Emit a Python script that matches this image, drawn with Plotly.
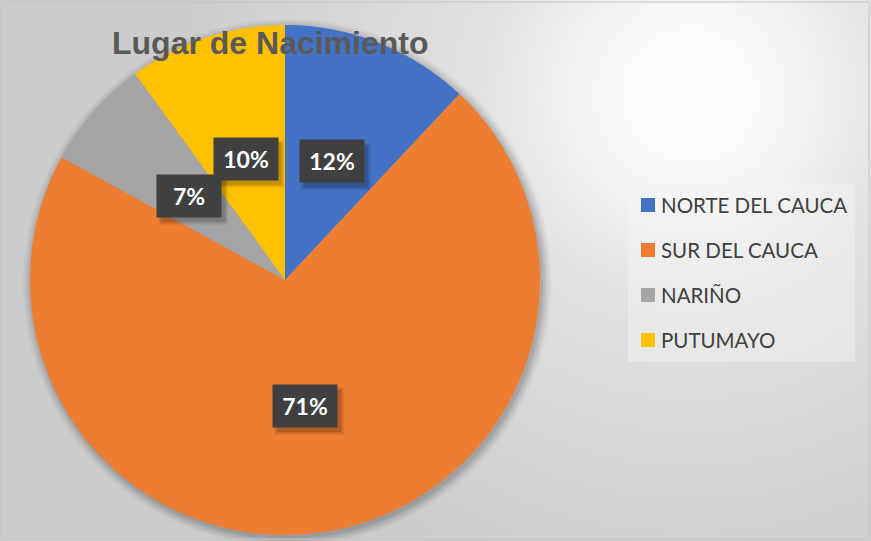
import math
import urllib.parse
import plotly.graph_objects as go

# ---- data ----
categories = ["NORTE DEL CAUCA", "SUR DEL CAUCA", "NARIÑO", "PUTUMAYO"]
values = [12, 71, 7, 10]
slice_colors = ["#4472C4", "#ED7D31", "#A5A5A5", "#FFC000"]
title_text = "Lugar de Nacimiento"

W, H = 871, 541
# pie placement in pixels
PCX, PCY, PR = 285, 280, 255
dom_x = [(PCX - PR) / W, (PCX + PR) / W]
dom_y = [1 - (PCY + PR) / H, 1 - (PCY - PR) / H]

fig = go.Figure()
fig.add_trace(go.Pie(
    labels=categories, values=values, sort=False, direction="clockwise",
    rotation=0, marker=dict(colors=slice_colors, line=dict(width=0)),
    textinfo="none", hoverinfo="label+percent", showlegend=False,
    domain=dict(x=dom_x, y=dom_y),
))

# background gradient (SVG radial)
svg = (
    "<svg xmlns='http://www.w3.org/2000/svg' width='871' height='541'>"
    "<defs><radialGradient id='g' gradientUnits='userSpaceOnUse' cx='690' cy='95' r='520'>"
    "<stop offset='0' stop-color='#ffffff'/>"
    "<stop offset='0.12' stop-color='#fbfbfb'/>"
    "<stop offset='0.4' stop-color='#e2e2e2'/>"
    "<stop offset='1' stop-color='#cccccc'/>"
    "</radialGradient></defs>"
    "<rect width='871' height='541' fill='url(#g)'/></svg>"
)
src = "data:image/svg+xml;charset=utf-8," + urllib.parse.quote(svg)

shapes = []
# pie shadow
for dr, op in [(9, 0.03), (7, 0.04), (5, 0.05), (3, 0.06), (1, 0.07)]:
    ox, oy = 2, 3
    shapes.append(dict(
        type="circle", xref="paper", yref="paper", layer="below",
        x0=(PCX + ox - PR - dr) / W, x1=(PCX + ox + PR + dr) / W,
        y0=1 - (PCY + oy + PR + dr) / H, y1=1 - (PCY + oy - PR - dr) / H,
        fillcolor=f"rgba(0,0,0,{op})", line=dict(width=0),
    ))

# legend background
shapes.append(dict(type="rect", xref="paper", yref="paper", layer="below",
                   x0=628 / W, x1=855 / W, y0=1 - 362 / H, y1=1 - 183 / H,
                   fillcolor="rgba(245,245,245,0.45)", line=dict(width=0)))
# outer border
shapes.append(dict(type="rect", xref="paper", yref="paper",
                   x0=1 / W, x1=869 / W, y0=1 - 539 / H, y1=1 - 2 / H,
                   fillcolor="rgba(0,0,0,0)", line=dict(color="#c4c4c4", width=1)))

annotations = []
# data labels
BW, BH = 64, 42
total = sum(values)
cum = 0
for v in values:
    mid = (cum + v / 2) / total * 2 * math.pi
    cum += v
    px = PCX + 0.5 * PR * math.sin(mid)
    py = PCY - 0.5 * PR * math.cos(mid)
    txt = f"{round(v / total * 100)}%"
    # soft shadow behind box
    for g, op in [(3, 0.06), (1.5, 0.09), (0, 0.12)]:
        sx, sy = px + 4, py + 5
        shapes.append(dict(
            type="rect", xref="paper", yref="paper",
            x0=(sx - BW / 2 - g) / W, x1=(sx + BW / 2 + g) / W,
            y0=1 - (sy + BH / 2 + g) / H, y1=1 - (sy - BH / 2 - g) / H,
            fillcolor=f"rgba(0,0,0,{op})", line=dict(width=0),
        ))
    annotations.append(dict(
        x=px / W, y=1 - py / H, xref="paper", yref="paper",
        xanchor="center", yanchor="middle",
        text=f"<b>{txt}</b>", showarrow=False, width=BW - 14, height=BH - 14, borderpad=7,
        bgcolor="#404040", font=dict(family="Lato", size=23, color="#ffffff"),
    ))

# legend entries
leg_y0, leg_dy = 205, 45
for i, (lab, col) in enumerate(zip(categories, slice_colors)):
    yy = leg_y0 + i * leg_dy
    shapes.append(dict(type="rect", xref="paper", yref="paper",
                       x0=641 / W, x1=655 / W, y0=1 - (yy + 7) / H, y1=1 - (yy - 7) / H,
                       fillcolor=col, line=dict(width=0)))
    annotations.append(dict(
        x=659 / W, y=1 - yy / H, xref="paper", yref="paper", xanchor="left", yanchor="middle",
        text=lab, showarrow=False, font=dict(family="Lato", size=20.5, color="#404040"),
    ))

# title
annotations.append(dict(
    x=110 / W, y=1 - 43 / H, xref="paper", yref="paper", xanchor="left", yanchor="middle",
    text=f"<b>{title_text}</b>", showarrow=False,
    font=dict(family="Liberation Sans", size=32, color="#595959"),
))

fig.update_layout(
    width=W, height=H, margin=dict(l=0, r=0, t=0, b=0),
    paper_bgcolor="#d8d8d8", plot_bgcolor="rgba(0,0,0,0)",
    images=[dict(source=src, xref="paper", yref="paper", x=0, y=1, sizex=1, sizey=1,
                 xanchor="left", yanchor="top", sizing="stretch", layer="below")],
    shapes=shapes, annotations=annotations, showlegend=False,
)

fig.write_html("out.html", config={"displayModeBar": False},
               post_script="document.body.style.margin='0px';document.body.style.overflow='hidden';")
